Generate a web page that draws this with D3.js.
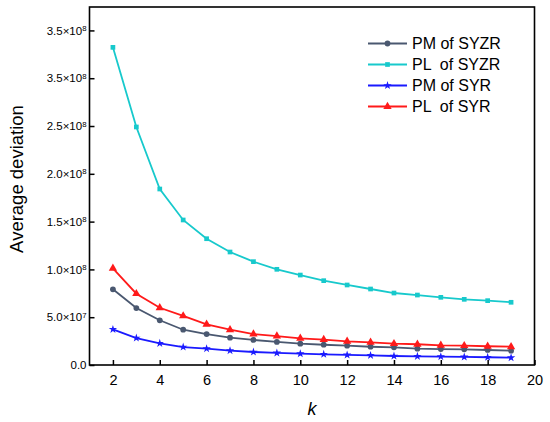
<!DOCTYPE html>
<html>
<head>
<meta charset="utf-8">
<script src="https://cdn.jsdelivr.net/npm/d3@7"></script>
<style>
  body { margin: 0; background: #fff; }
  svg { display: block; font-family: "Liberation Sans", Arial, sans-serif; }
</style>
</head>
<body>
<div id="chart"></div>
<script>
// values
const kValues = [2, 3, 4, 5, 6, 7, 8, 9, 10, 11, 12, 13, 14, 15, 16, 17, 18, 19];
const pmSYZR = [7.92e7, 5.96e7, 4.68e7, 3.69e7, 3.24e7, 2.86e7, 2.62e7, 2.41e7, 2.23e7, 2.12e7, 2.02e7, 1.91e7, 1.85e7, 1.71e7, 1.67e7, 1.64e7, 1.57e7, 1.50e7];
const plSYZR = [3.323e8, 2.49e8, 1.841e8, 1.517e8, 1.321e8, 1.182e8, 1.081e8, 1.001e8, 9.41e7, 8.82e7, 8.37e7, 7.95e7, 7.53e7, 7.32e7, 7.08e7, 6.87e7, 6.73e7, 6.56e7];
const pmSYR = [3.73e7, 2.82e7, 2.27e7, 1.88e7, 1.71e7, 1.50e7, 1.36e7, 1.26e7, 1.18e7, 1.12e7, 1.05e7, 1.01e7, 9.4e6, 9.1e6, 8.7e6, 8.4e6, 8.1e6, 7.6e6];
const plSYR = [1.011e8, 7.46e7, 5.99e7, 5.13e7, 4.26e7, 3.69e7, 3.24e7, 3.03e7, 2.79e7, 2.65e7, 2.48e7, 2.37e7, 2.23e7, 2.17e7, 2.06e7, 2.02e7, 1.96e7, 1.91e7];

const seriesNames = ["PM of SYZR", "PL  of SYZR", "PM of SYR", "PL  of SYR"];
const xTicks = [2, 4, 6, 8, 10, 12, 14, 16, 18, 20];
const yTicks = [0, 5e7, 1e8, 1.5e8, 2e8, 2.5e8, 3e8, 3.5e8];
// tick labels as printed in the picture (the 3.0 tick reads 3.5 there)
const yTickLabels = [["0.0", ""], ["5.0×10", "7"], ["1.0×10", "8"], ["1.5×10", "8"],
  ["2.0×10", "8"], ["2.5×10", "8"], ["3.5×10", "8"], ["3.5×10", "8"]];

const width = 550, height = 422;
const margin = {top: 7, right: 15.5, bottom: 57, left: 89.5};

const series = [
  {name: seriesNames[0], values: pmSYZR, color: "#4a5870", symbol: d3.symbolCircle, size: 26},
  {name: seriesNames[1], values: plSYZR, color: "#17c9cc", symbol: d3.symbolSquare, size: 22},
  {name: seriesNames[2], values: pmSYR, color: "#1a1aff", symbol: d3.symbolStar, size: 22},
  {name: seriesNames[3], values: plSYR, color: "#ff1a1a", symbol: d3.symbolTriangle, size: 30}
];

const x = d3.scaleLinear().domain([1, 20]).range([margin.left, width - margin.right]);
const y = d3.scaleLinear().domain([0, 3.745e8]).range([height - margin.bottom, margin.top]);

const svg = d3.select("#chart").append("svg")
  .attr("width", width)
  .attr("height", height);

// y axis, ticks pointing inward
svg.append("g")
  .attr("transform", `translate(${margin.left},0)`)
  .call(d3.axisLeft(y).tickValues(yTicks).tickSize(-5).tickPadding(3).tickFormat(""))
  .call(g => g.select(".domain").remove())
  .call(g => g.selectAll(".tick line").attr("stroke", "#000").attr("stroke-width", 1.5))
  .call(g => g.selectAll(".tick text")
    .attr("font-size", 11.5)
    .attr("fill", "#000")
    .each(function (d, i) {
      const t = d3.select(this);
      t.append("tspan").text(yTickLabels[i][0]);
      if (yTickLabels[i][1]) t.append("tspan")
        .attr("dy", "-0.45em")
        .attr("font-size", "0.68em")
        .text(yTickLabels[i][1]);
    }));

// x axis
svg.append("g")
  .attr("transform", `translate(0,${height - margin.bottom})`)
  .call(d3.axisBottom(x).tickValues(xTicks).tickSize(-5).tickPadding(10))
  .call(g => g.select(".domain").remove())
  .call(g => g.selectAll(".tick line").attr("stroke", "#000").attr("stroke-width", 1.5))
  .call(g => g.selectAll(".tick text").attr("font-size", 14.5).attr("fill", "#000"));

// frame
svg.append("rect")
  .attr("x", margin.left)
  .attr("y", margin.top)
  .attr("width", width - margin.left - margin.right)
  .attr("height", height - margin.top - margin.bottom)
  .attr("fill", "none")
  .attr("stroke", "#000")
  .attr("stroke-width", 1.6);

const line = d3.line()
  .x((d, i) => x(kValues[i]))
  .y(d => y(d));

const g = svg.append("g").selectAll("g")
  .data(series)
  .join("g");

g.append("path")
  .attr("fill", "none")
  .attr("stroke", d => d.color)
  .attr("stroke-width", 1.8)
  .attr("d", d => line(d.values));

g.each(function (s) {
  d3.select(this).selectAll(".pt")
    .data(s.values)
    .join("path")
    .attr("class", "pt")
    .attr("transform", (d, i) => `translate(${x(kValues[i])},${y(d)})`)
    .attr("d", d3.symbol(s.symbol, s.size))
    .attr("fill", s.color);
});

// legend
const legend = svg.append("g").selectAll("g")
  .data(series)
  .join("g")
  .attr("transform", (d, i) => `translate(368,${43.5 + i * 21})`);

legend.append("line")
  .attr("x1", 0).attr("x2", 39)
  .attr("stroke", d => d.color)
  .attr("stroke-width", 2);

legend.append("path")
  .attr("transform", "translate(19.5,0)")
  .attr("d", d => d3.symbol(d.symbol, d.size)())
  .attr("fill", d => d.color);

legend.append("text")
  .attr("x", 44)
  .attr("dy", "0.36em")
  .attr("font-size", 16)
  .attr("fill", "#000")
  .style("white-space", "pre")
  .text(d => d.name);

// axis titles
svg.append("text")
  .attr("transform", "translate(23,179) rotate(-90)")
  .attr("text-anchor", "middle")
  .attr("font-size", 18.5)
  .attr("fill", "#000")
  .text("Average deviation");

svg.append("text")
  .attr("x", 312)
  .attr("y", 415)
  .attr("text-anchor", "middle")
  .attr("font-size", 18)
  .attr("font-style", "italic")
  .attr("fill", "#000")
  .text("k");
</script>
</body>
</html>
